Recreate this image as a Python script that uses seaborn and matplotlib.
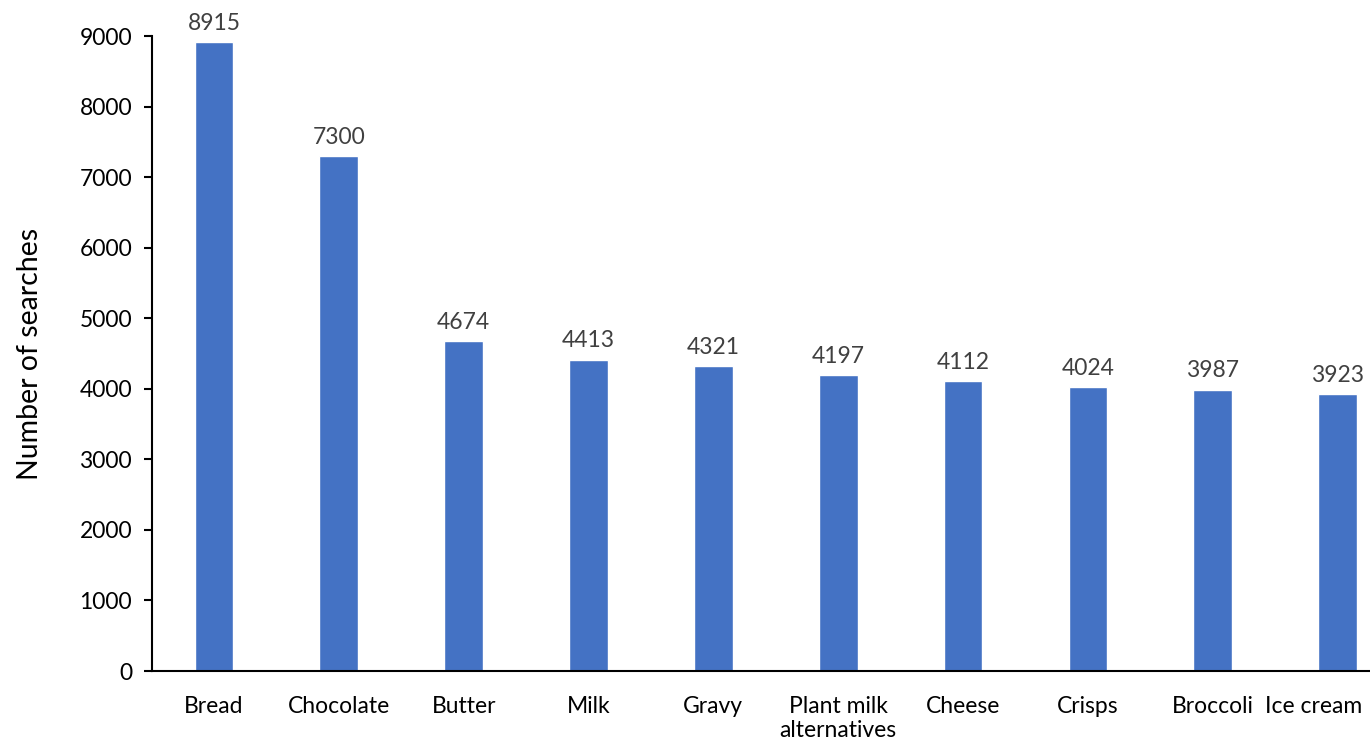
import matplotlib
matplotlib.use("Agg")
import matplotlib.pyplot as plt
import matplotlib.transforms as mtransforms
import seaborn as sns
import pandas as pd

categories = ["Bread", "Chocolate", "Butter", "Milk", "Gravy",
              "Plant milk\nalternatives", "Cheese", "Crisps", "Broccoli", "Ice cream"]
searches = [8915, 7300, 4674, 4413, 4321, 4197, 4112, 4024, 3987, 3923]
y_ticks = [0, 1000, 2000, 3000, 4000, 5000, 6000, 7000, 8000, 9000]

sns.set_theme(style="white")
plt.rcParams["font.family"] = ["Lato", "DejaVu Sans"]

df = pd.DataFrame({"Food": categories, "Searches": searches})

fig = plt.figure(figsize=(13.7, 7.44), dpi=100)
ax = fig.add_axes([0.1106, 0.0981, 0.9113, 0.8535])

sns.barplot(data=df, x="Food", y="Searches", color="#4472C4", width=0.31,
            saturation=1, ax=ax)

ax.set_ylim(0, 9000)
ax.set_xlim(-0.5, len(categories) - 0.5)
ax.set_yticks(y_ticks)
ax.set_yticklabels([str(t) for t in y_ticks])

for c in ax.containers:
    ax.bar_label(c, labels=[str(v) for v in searches], padding=6,
                 fontsize=16.5, color="#404040")

ax.set_xlabel("")
ax.set_ylabel("Number of searches", fontsize=20.5, color="black", labelpad=26)

sns.despine(ax=ax, top=True, right=True)
for side in ("left", "bottom"):
    ax.spines[side].set_color("black")
    ax.spines[side].set_linewidth(1.5)

ax.tick_params(axis="y", which="major", left=True, length=6, width=1.5,
               color="black", labelsize=16.5, labelcolor="black", pad=8)
ax.tick_params(axis="x", which="major", bottom=False, labelsize=16.5,
               labelcolor="black", pad=12)

# keep the last category name inside the canvas
last = ax.get_xticklabels()[-1]
last.set_transform(last.get_transform()
                   + mtransforms.ScaledTranslation(-24 / 100, 0, fig.dpi_scale_trans))

fig.savefig("out.png", dpi=100)
